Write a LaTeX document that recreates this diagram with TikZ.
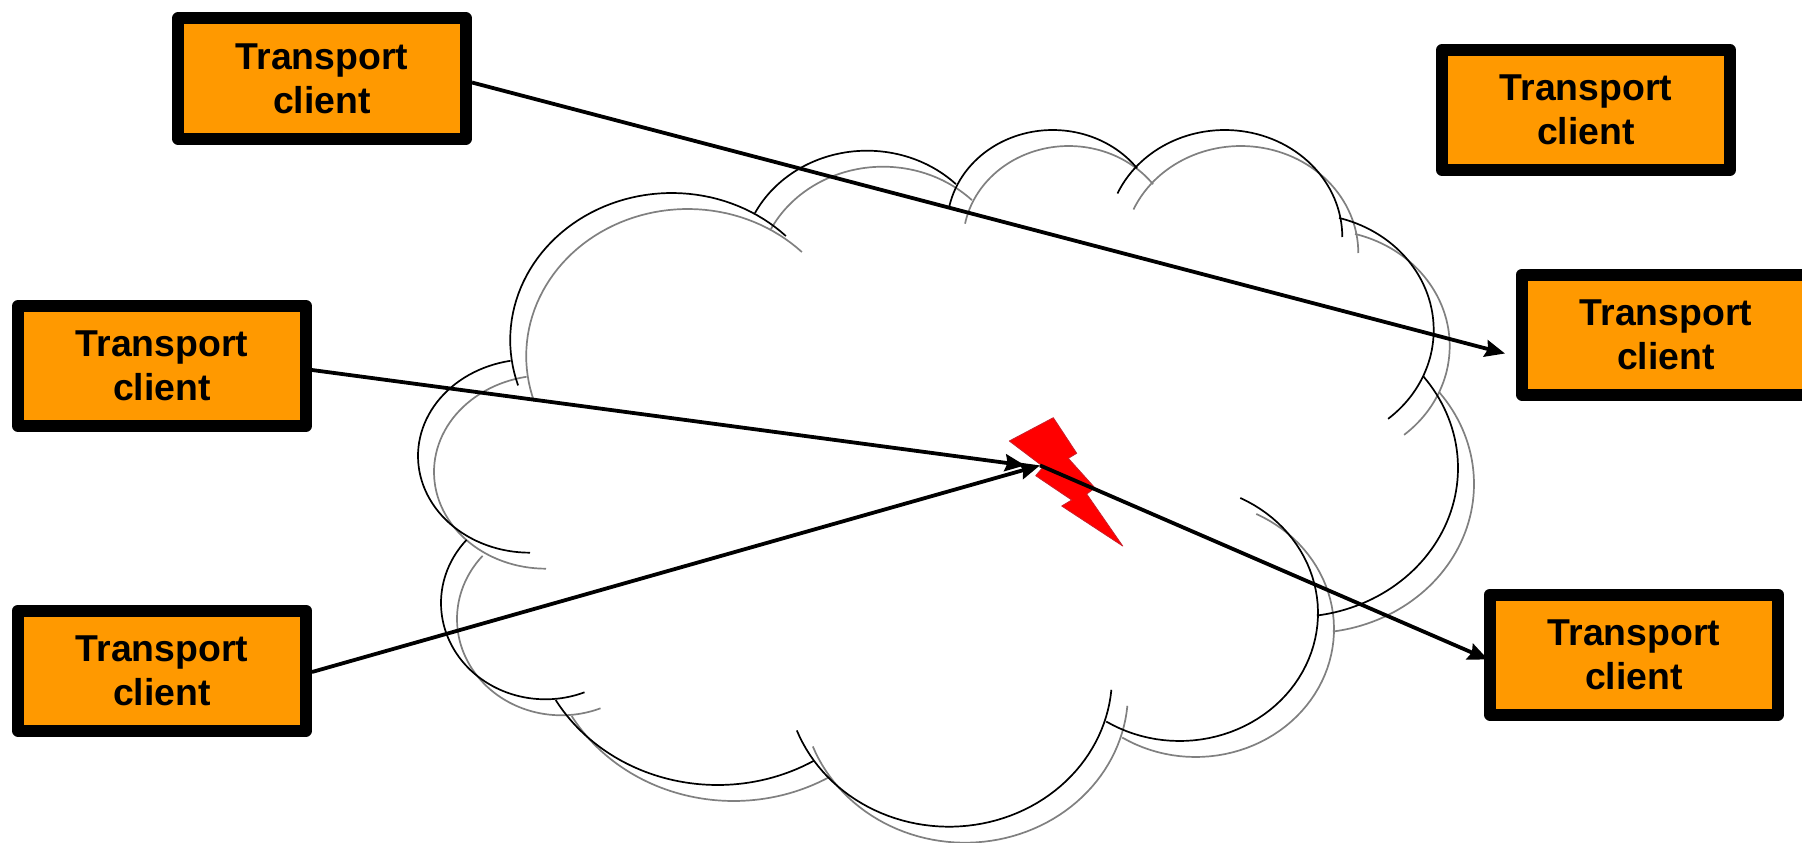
\documentclass[tikz,border=0pt]{standalone}
\usepackage{fontspec}
\setmainfont{Liberation Sans}
\usetikzlibrary{arrows.meta}
\definecolor{cloudGrey}{HTML}{808080}
\definecolor{clientOrange}{HTML}{FF9900}
\definecolor{faultRed}{HTML}{FF0000}
\definecolor{faultEdge}{HTML}{C8202C}
\begin{document}
\begin{tikzpicture}[x=1pt,y=-1pt,>={Stealth[length=20pt,width=17pt,inset=2.5pt]},line join=round]
\tikzset{client/.style={draw=black,fill=clientOrange,line width=12pt,minimum width=288pt,minimum height=120pt,align=center,font=\bfseries\fontsize{37.4}{44}\selectfont,execute at begin node={\rule{0pt}{31pt}}},link/.style={draw=black,line width=3.8pt},puff/.style={line width=1.7pt}}
\clip (0,0) rectangle (1802,843);
\path[fill=white] (0,0) rectangle (1802,843);
% cloud, shadow first
\foreach \off/\col in {16/cloudGrey,0/black}
  \foreach \cx/\cy/\rx/\ry/\aS/\aE in {671.7/340/161.5/147/162/315,867/265/125.8/114.3/207/315,1052.7/226/105.6/96/191/323,1224.8/237/117.5/107/204/360,1306/330/127.7/116/-75/50,1294/468/164/149/-38/82,1179.6/613/138.4/128/-64/122,949/676.7/163/150/5/159,717.6/615/187/170/59/150,545.4/603/104.4/96.3/68/221,530/456/112/96.7/90/260}
    \draw[puff,draw=\col] plot[domain=\aS:\aE,samples=60,variable=\ang] ({\cx+\off+\rx*cos(\ang)},{\cy+\off+\ry*sin(\ang)});
\path[draw=faultEdge,fill=faultRed,line width=.8pt] (1009.3,441) -- (1053.3,417.7) -- (1076.7,453.3) -- (1068.3,458.3) -- (1095,488) -- (1086.7,494) -- (1122.7,546) -- (1061.7,506) -- (1071.7,500) -- (1035.7,475.7) -- (1043.3,466.7) -- cycle;
\node[client] (clientA) at (322,78.5) {Transport\\client};
\node[client] (clientB) at (1586,110) {Transport\\client};
\node[client] (clientC) at (1666,334.5) {Transport\\client};
\node[client] (clientD) at (1634,654.5) {Transport\\client};
\node[client] (clientE) at (162,366) {Transport\\client};
\node[client] (clientF) at (162,670.5) {Transport\\client};
\coordinate (faultIn) at (1025,465.4);
\coordinate (faultOut) at (1040,465.4);
\draw[link,->] ([yshift=-4pt]clientA.east) -- ([xshift=-11pt,yshift=-19pt]clientC.west);
\draw[link,->] ([yshift=-4pt]clientE.east) -- (faultIn);
\draw[link,->] ([yshift=-1.5pt]clientF.east) -- (faultOut);
\draw[link,->] (faultOut) -- ([xshift=4pt,yshift=-5pt]clientD.west);
\end{tikzpicture}
\end{document}
